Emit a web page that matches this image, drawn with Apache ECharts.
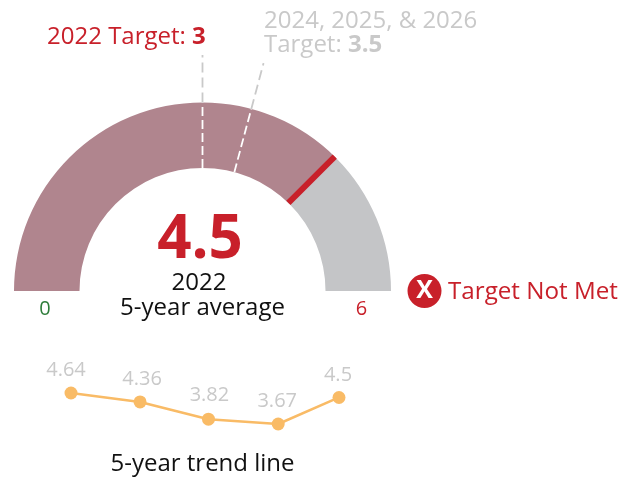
<!DOCTYPE html>
<html><head><meta charset="utf-8">
<style>html,body{margin:0;padding:0;background:#fff}#c{width:621px;height:477px}</style>
<script src="https://cdn.jsdelivr.net/npm/echarts@6/dist/echarts.min.js"></script>
</head><body><div id="c"></div>
<script>
const gaugeMin = 0;
const gaugeMax = 6;
const currentValue = 4.5;
const targets2022 = 3;
const targetsLater = 3.5;
const trendPeriods = [0, 1, 1.99, 3.0, 3.88];
const trendValues = [4.64, 4.36, 3.82, 3.67, 4.5];
const trendLabelShift = [[-5, 0], [2, 0], [1, -1], [-1, 0], [-1, 0]];

const RED = '#c8202a', GREY = '#c9c9c9', FONT = '"Open Sans", sans-serif';
const cx = 202.5, cy = 291, rOuter = 188.5, rInner = 123, rLine = 236;
const txt = (x, y, text, size, fill, align, extra) => ({
  type: 'text', x, y, z: 20,
  style: Object.assign({ text, fontSize: size, fill, fontFamily: FONT, align: align || 'center', verticalAlign: 'middle' }, extra || {})
});
const tick = (v, from, to, color, dash) => ({
  type: 'line', coordinateSystem: 'polar', silent: true, showSymbol: false, symbol: 'none', z: 10,
  data: [[from, v], [to, v]],
  lineStyle: { color, width: 1.8, type: dash }
});

const chart = echarts.init(document.getElementById('c'), null, { renderer: 'canvas' });
chart.setOption({
  animation: false,
  polar: { center: [cx, cy], radius: rLine },
  angleAxis: { type: 'value', min: 0, max: 12, startAngle: 180, clockwise: true, show: false },
  radiusAxis: { type: 'value', min: 0, max: rLine, show: false },
  grid: { left: 71, top: 393, width: 268, height: 31, containLabel: false },
  xAxis: { type: 'value', min: 0, max: 3.88, show: false },
  yAxis: { type: 'value', min: 3.67, max: 4.64, show: false },
  series: [
    {
      type: 'gauge', center: [cx, cy], radius: rOuter, startAngle: 180, endAngle: 0,
      min: gaugeMin, max: gaugeMax, splitNumber: 6,
      axisLine: { lineStyle: { width: rOuter - rInner, color: [[currentValue / gaugeMax, '#b0858e'], [1, '#c4c5c7']] } },
      axisTick: { show: false }, splitLine: { show: false }, axisLabel: { show: false },
      pointer: { show: true, icon: 'rect', width: 6, length: rOuter - rInner, offsetCenter: [-1.5, -rInner] },
      itemStyle: { color: RED },
      anchor: { show: false },
      title: { show: false },
      detail: {
        show: true, offsetCenter: [-2.5, -50], formatter: '{value}', color: RED,
        fontSize: 60, fontWeight: 'bold', fontFamily: FONT
      },
      data: [{ value: currentValue }]
    },
    tick(targets2022, rInner, rOuter, '#ffffff', [9, 4]),
    tick(targets2022, rOuter, rLine, GREY, [10, 5]),
    tick(targetsLater, rInner, rOuter, '#ffffff', [9, 4]),
    tick(targetsLater, rOuter, rLine, GREY, [10, 5]),
    {
      type: 'line', data: trendPeriods.map((p, i) => ({
        value: [p, trendValues[i]],
        label: { offset: trendLabelShift[i] }
      })),
      symbol: 'circle', symbolSize: 13, showAllSymbol: true,
      lineStyle: { color: '#f9bb66', width: 2.5 }, itemStyle: { color: '#f9bb66' },
      label: {
        show: true, position: 'top', distance: 6, color: GREY, fontSize: 20, fontFamily: FONT,
        formatter: p => String(p.value[1])
      }
    }
  ],
  graphic: [
    { type: 'text', x: 47, y: 37, z: 20, style: {
        text: '{a|2022 Target: }{b|3}', verticalAlign: 'middle',
        rich: {
          a: { fontSize: 24, fill: RED, fontFamily: FONT },
          b: { fontSize: 24, fill: RED, fontFamily: FONT, fontWeight: 'bold' }
        } } },
    txt(264, 21, '2024, 2025, & 2026', 24, GREY, 'left'),
    { type: 'text', x: 264, y: 45, z: 20, style: {
        text: '{a|Target: }{b|3.5}', verticalAlign: 'middle',
        rich: {
          a: { fontSize: 24, fill: GREY, fontFamily: FONT },
          b: { fontSize: 24, fill: GREY, fontFamily: FONT, fontWeight: 'bold' }
        } } },
    txt(199, 283, '2022', 24, '#111'),
    txt(202.5, 308, '5-year average', 24, '#111'),
    txt(45, 309, String(gaugeMin), 20, '#2e7d3a'),
    txt(361.5, 309, String(gaugeMax), 20, RED),
    { type: 'circle', shape: { cx: 424.5, cy: 291, r: 17 }, style: { fill: RED }, z: 20 },
    txt(424.5, 291, 'X', 25, '#fff', 'center', { fontWeight: 'bold' }),
    txt(448, 292, 'Target Not Met', 24.2, RED, 'left'),
    txt(202.5, 464, '5-year trend line', 24, '#111')
  ]
});
</script></body></html>
